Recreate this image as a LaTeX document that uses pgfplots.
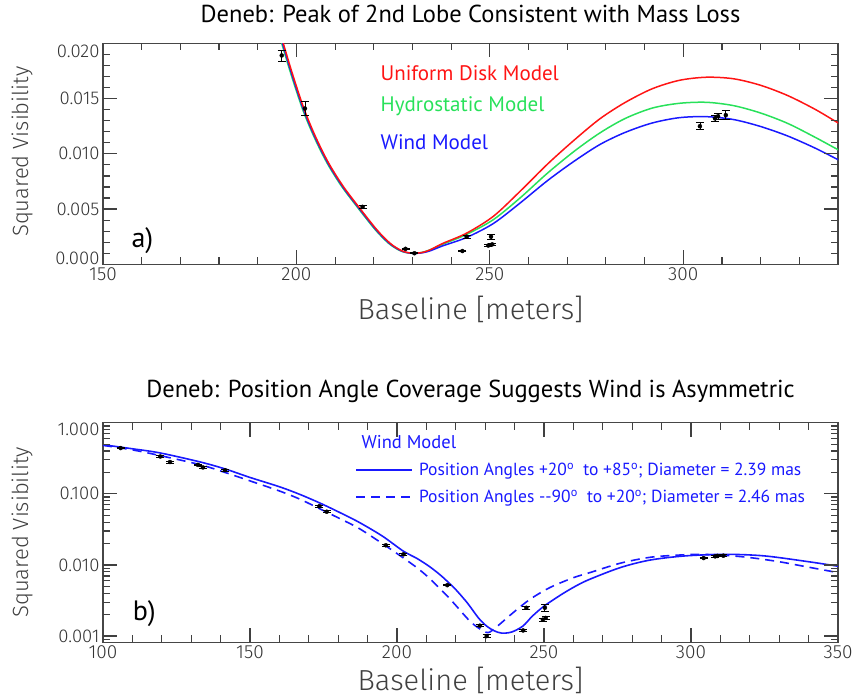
\documentclass[border=0pt]{standalone}
\usepackage{fontspec}
\setmainfont{PT Sans}
\newfontfamily\lightfont{Fira Sans Light}
\usepackage{pgfplots}
\usepackage{pgfplotstable}
\pgfplotsset{compat=1.18}
\definecolor{udred}{RGB}{255,20,20}
\definecolor{hgreen}{RGB}{40,225,90}
\definecolor{wblue}{RGB}{25,25,255}
\definecolor{axgray}{RGB}{70,70,70}
\tikzset{tk/.style={draw=black!75, line width=1.2pt}}

\pgfplotstableread{
B V err
106 0.44 0.01
119.5 0.335 0.008
122.8 0.28 0.008
132.3 0.255 0.006
134 0.235 0.006
141.5 0.215 0.005
173.6 0.067 0.002
176.1 0.056 0.002
196.2 0.0189 0.0005
202.2 0.0141 0.0006
217.1 0.0052 0.0001
228.2 0.0014 0.00005
230.5 0.0010 0.00005
242.9 0.0012 0.00005
244.0 0.0025 0.00015
249.6 0.0017 0.0001
250.3 0.0025 0.00025
250.6 0.0018 0.0001
304.3 0.0125 0.0003
308.2 0.0132 0.0003
309.0 0.0134 0.0003
311.0 0.0135 0.0004
}\datatable

\pgfplotstableread{
B V
193 0.0243
196.6 0.0200
199 0.0172
202 0.01403
205 0.0115
208.3 0.00918
212 0.0071
216 0.00524
220.8 0.00312
224.2 0.00191
226.8 0.0013
228.5 0.00108
230.3 0.00100
232.5 0.00107
234.5 0.0013
237.9 0.0019
244 0.00282
250.9 0.00434
257.8 0.0066
265 0.0091
272 0.0113
278.5 0.01318
285 0.01465
292 0.01589
299 0.01665
306 0.01693
313 0.01679
320 0.0162
327 0.01527
334 0.01404
340 0.0128
342 0.0124
}\redtable

\pgfplotstableread{
B V
192.6 0.0243
196.2 0.0200
198.6 0.0172
201.6 0.01403
204.6 0.0115
207.9 0.00918
211.6 0.0071
215.6 0.00524
220.4 0.00312
223.8 0.00191
226.4 0.0013
228.1 0.00108
229.9 0.00100
232.1 0.00105
234.2 0.00126
237.9 0.00182
244 0.00271
250.9 0.00404
257.8 0.0060
265 0.00828
272 0.01028
278.5 0.0119
285 0.0132
292 0.01414
299 0.01457
306 0.01466
313 0.01436
320 0.01369
327 0.01275
334 0.01151
340 0.01037
342 0.0100
}\greentable

\pgfplotstableread{
B V
192.8 0.0243
196.4 0.0200
198.8 0.0172
201.8 0.01403
204.8 0.0115
208.1 0.00918
211.8 0.0071
215.8 0.00524
220.6 0.00312
224.0 0.00191
226.6 0.0013
228.3 0.00108
230.1 0.00099
232.3 0.00103
234.4 0.00120
237.9 0.00168
244 0.00243
250.9 0.00369
257.8 0.00554
265 0.0076
272 0.00938
278.5 0.01085
285 0.01194
292 0.01279
299 0.01327
306 0.01336
313 0.0131
320 0.01247
327 0.01161
334 0.01053
340 0.00947
342 0.0091
}\bluetable

\pgfplotstableread{
B V
100 0.49
110 0.43
119.4 0.376
133 0.281
141.5 0.224
150 0.170
160.2 0.125
167 0.098
173.6 0.0748
180 0.056
187 0.040
195 0.0255
202.1 0.0157
207 0.0122
211.2 0.0094
214.6 0.0073
216.7 0.0061
220 0.0045
224 0.0029
227.7 0.0018
230.5 0.00138
233 0.00119
235.6 0.00110
239 0.00114
242.8 0.00138
246 0.0019
249.8 0.0026
253 0.0032
256.6 0.0040
261 0.0051
265.6 0.0063
276 0.0092
286 0.0117
298 0.0134
312 0.0141
325 0.0134
340 0.0111
350 0.0096
}\solidtable

\pgfplotstableread{
B V
100 0.48
110 0.415
119.4 0.345
133 0.257
141.5 0.200
150 0.152
160.2 0.109
167 0.084
173.6 0.062
180 0.046
187 0.0328
195 0.020
202.1 0.0126
207 0.0090
211.2 0.0064
216.7 0.0038
220 0.0027
224.8 0.00162
228.2 0.00126
231 0.00112
233.9 0.00135
239.6 0.00215
245.2 0.00328
252 0.00481
260 0.00662
265.6 0.0078
276 0.0106
286 0.0128
295 0.0137
303 0.0141
312 0.0136
320 0.0127
330 0.0111
340 0.0093
350 0.0078
}\dashtable

\begin{document}
\begin{tikzpicture}
\useasboundingbox (0pt,0pt) rectangle (852pt,-698pt);
\pgfplotsset{
  common/.style={
    scale only axis, width=735pt,
    axis line style={draw=axgray, line width=1.1pt},
    tick style={draw=black!75, line width=1.2pt}, tick align=inside,
    major tick length=14pt, minor tick length=7pt,
    x tick label style={font=\lightfont\fontsize{19}{19}\selectfont, black!80},
    y tick label style={font=\lightfont\fontsize{18.5}{19}\selectfont, black!80},
    x label style={font=\lightfont\fontsize{29}{29}\selectfont, black!75},
    y label style={font=\lightfont\fontsize{22}{23}\selectfont, black!75},
    title style={font=\fontsize{24.5}{26}\selectfont},
  },
  errbars/.style={black, only marks, mark=none,
      error bars/.cd, y dir=both, y explicit,
      error bar style={black, line width=0.8pt},
      error mark options={black, rotate=90, mark size=4pt, line width=0.8pt}},
}
\begin{axis}[common, at={(103pt,-43.3pt)}, anchor=north west, height=221pt,
  xmin=150, xmax=340, ymin=0, ymax=0.020,
  xtick={150,200,250,300}, xticklabels={150,200,250,300},
  minor x tick num=4,
  ytick={0,0.005,0.01,0.015,0.02},
  yticklabels={\raisebox{6pt}[\height][\depth]{0.000},0.005,0.010,0.015,\raisebox{-8pt}[\height][\depth]{0.020}},
  minor y tick num=4, scaled y ticks=false,
  xlabel={Baseline [meters]}, ylabel={Squared Visibility},
  xlabel style={at={(axis description cs:0.5,-0.205)}, anchor=center},
  ylabel style={at={(axis description cs:-0.110,0.51)}, anchor=center},
  title={Deneb: Peak of 2nd Lobe Consistent with Mass Loss},
  title style={at={(axis description cs:0.5,1.104)}, anchor=center},
]
\addplot[hgreen, line width=1.5pt, smooth] table[x=B, y=V] {\greentable};
\addplot[wblue, line width=1.5pt, smooth] table[x=B, y=V] {\bluetable};
\addplot[udred, line width=1.5pt, smooth] table[x=B, y=V] {\redtable};
\addplot[errbars] table[x=B, y=V, y error=err] {\datatable};
\pgfplotsinvokeforeach{200,250,300}{
  \draw[tk] (axis cs:#1,0) -- (axis cs:#1,0.00127);
  \draw[tk] (axis cs:#1,0.02) -- (axis cs:#1,0.01873);
}
\pgfplotsinvokeforeach{160,170,180,190,210,220,230,240,260,270,280,290,310,320,330}{
  \draw[tk] (axis cs:#1,0) -- (axis cs:#1,0.00064);
  \draw[tk] (axis cs:#1,0.02) -- (axis cs:#1,0.01936);
}
\pgfplotsinvokeforeach{0.005,0.010,0.015}{
  \draw[tk] (axis cs:150,#1) -- (axis cs:153.6,#1);
  \draw[tk] (axis cs:340,#1) -- (axis cs:336.4,#1);
}
\pgfplotsinvokeforeach{0.001,0.002,0.003,0.004,0.006,0.007,0.008,0.009,0.011,0.012,0.013,0.014,0.016,0.017,0.018,0.019}{
  \draw[tk] (axis cs:150,#1) -- (axis cs:151.8,#1);
  \draw[tk] (axis cs:340,#1) -- (axis cs:338.2,#1);
}
\node[anchor=west, text=udred, font=\fontsize{21}{21}\selectfont] at (rel axis cs:0.373,0.866) {Uniform Disk Model};
\node[anchor=west, text=hgreen, font=\fontsize{21}{21}\selectfont] at (rel axis cs:0.373,0.716) {Hydrostatic Model};
\node[anchor=west, text=wblue, font=\fontsize{21}{21}\selectfont] at (rel axis cs:0.373,0.553) {Wind Model};
\node[anchor=base west, font=\fontsize{28}{28}\selectfont, black] at (rel axis cs:0.034,0.074) {a)};
\end{axis}

\begin{axis}[common, at={(103pt,-422.7pt)}, anchor=north west, height=219.5pt,
  ymode=log, xmin=100, xmax=350, ymin=0.00082, ymax=1.0,
  xtick={100,150,200,250,300,350}, xticklabels={100,150,200,250,300,350},
  minor x tick num=4,
  ytick={0.001,0.01,0.1,1}, yticklabels={0.001,0.010,0.100,\raisebox{-7pt}[\height][\depth]{1.000}},
  minor ytick={0.0009,0.002,0.003,0.004,0.005,0.006,0.007,0.008,0.009,0.02,0.03,0.04,0.05,0.06,0.07,0.08,0.09,0.2,0.3,0.4,0.5,0.6,0.7,0.8,0.9},
  xlabel={Baseline [meters]}, ylabel={Squared Visibility},
  xlabel style={at={(axis description cs:0.5,-0.176)}, anchor=center},
  ylabel style={at={(axis description cs:-0.110,0.5)}, anchor=center},
  title={Deneb: Position Angle Coverage Suggests Wind is Asymmetric},
  title style={at={(axis description cs:0.5,1.114)}, anchor=center},
  legend style={at={(axis description cs:0.343,0.825)}, anchor=north west, draw=none, fill=none,
    font=\fontsize{17.5}{18}\selectfont, text=wblue, row sep=9pt, inner sep=0pt},
  legend cell align=left,
  legend image code/.code={\draw[wblue, line width=1.8pt, #1] (0pt,0pt) -- (56pt,0pt); \path (60pt,0pt);},
]
\addplot[wblue, line width=1.6pt, smooth] table[x=B, y=V] {\solidtable};
\addlegendentry{Position Angles +20\textsuperscript{o}\ \ to +85\textsuperscript{o}; Diameter = 2.39 mas}
\addplot[wblue, line width=1.6pt, smooth, dash pattern=on 9pt off 6pt] table[x=B, y=V] {\dashtable};
\addlegendentry{Position Angles -{}-90\textsuperscript{o}\ \ to +20\textsuperscript{o}; Diameter = 2.46 mas}
\addplot[forget plot, errbars] table[x=B, y=V, y error=err] {\datatable};
\pgfplotsinvokeforeach{150,200,250,300}{
  \draw[tk] (axis cs:#1,0.00082) -- (axis cs:#1,0.00128);
  \draw[tk] (axis cs:#1,1.0) -- (axis cs:#1,0.64);
}
\pgfplotsinvokeforeach{110,120,130,140,160,170,180,190,210,220,230,240,260,270,280,290,310,320,330,340}{
  \draw[tk] (axis cs:#1,0.00082) -- (axis cs:#1,0.00102);
  \draw[tk] (axis cs:#1,1.0) -- (axis cs:#1,0.80);
}
\pgfplotsinvokeforeach{0.001,0.01,0.1}{
  \draw[tk] (axis cs:100,#1) -- (axis cs:104.8,#1);
  \draw[tk] (axis cs:350,#1) -- (axis cs:345.2,#1);
}
\pgfplotsinvokeforeach{0.0009,0.002,0.003,0.004,0.005,0.006,0.007,0.008,0.009,0.02,0.03,0.04,0.05,0.06,0.07,0.08,0.09,0.2,0.3,0.4,0.5,0.6,0.7,0.8,0.9}{
  \draw[tk] (axis cs:100,#1) -- (axis cs:102.4,#1);
  \draw[tk] (axis cs:350,#1) -- (axis cs:347.6,#1);
}
\node[anchor=west, text=wblue, font=\fontsize{18.5}{19}\selectfont] at (rel axis cs:0.347,0.911) {Wind Model};
\node[anchor=base west, font=\fontsize{28}{28}\selectfont, black] at (rel axis cs:0.036,0.10) {b)};
\end{axis}
\end{tikzpicture}
\end{document}
